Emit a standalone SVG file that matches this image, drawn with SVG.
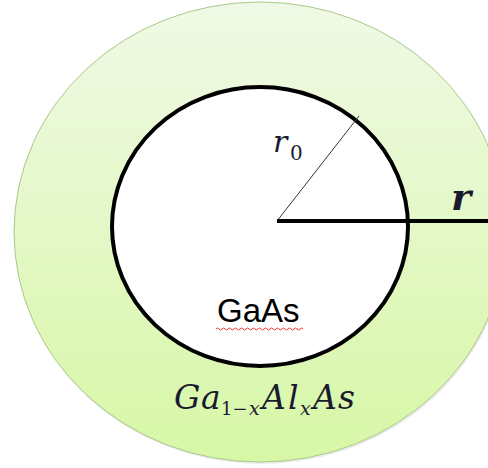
<svg xmlns="http://www.w3.org/2000/svg" width="488" height="468" viewBox="0 0 488 468">
<defs>
<linearGradient id="g" x1="0" y1="0" x2="0" y2="1">
<stop offset="0" stop-color="#f0f9e6"/>
<stop offset="1" stop-color="#d7f7a6"/>
</linearGradient>
<style>
.m{font-family:"DejaVu Serif","Liberation Serif",serif;font-style:italic;fill:#1a1a2e}
.n{font-style:normal}
.s{font-family:"Liberation Sans",Arial,sans-serif;fill:#000}
</style>
</defs>
<rect width="488" height="468" fill="#fff"/>
<g id="shell">
<ellipse cx="261" cy="234" rx="246" ry="230" fill="#000" opacity="0.08"/>
<ellipse cx="260" cy="232" rx="246" ry="230" fill="url(#g)" stroke="#a9c98a" stroke-width="1"/>
</g>
<g id="core">
<ellipse cx="260" cy="226.5" rx="148" ry="139.5" fill="#fff" stroke="#000" stroke-width="4"/>
</g>
<g id="connectors">
<line x1="277" y1="221" x2="359" y2="116" stroke="#333" stroke-width="1"/>
<line x1="277" y1="221" x2="488" y2="221" stroke="#000" stroke-width="4"/>
</g>
<g id="labels">
<text class="m" font-size="30"><tspan x="273" y="152">r</tspan><tspan class="n" font-size="20" x="290" y="160">0</tspan></text>
<text class="m" x="451" y="210" font-size="38" font-weight="bold">r</text>
<text class="s" x="217" y="322" font-size="33">GaAs</text>
<path d="M216 329 q1.5 -2 3 0 t3 0 t3 0 t3 0 t3 0 t3 0 t3 0 t3 0 t3 0 t3 0 t3 0 t3 0 t3 0 t3 0 t3 0 t3 0 t3 0 t3 0 t3 0 t3 0 t3 0 t3 0 t3 0 t3 0 t3 0 t3 0 t3 0 t3 0 t3 0" fill="none" stroke="#e33" stroke-width="1"/>
<text class="m" font-size="33"><tspan x="174" y="409">G</tspan><tspan x="201" y="409">a</tspan><tspan class="n" font-size="18" x="221" y="415">1−</tspan><tspan font-size="19" x="249" y="415">x</tspan><tspan x="262" y="409">A</tspan><tspan x="288" y="409">l</tspan><tspan font-size="19" x="300" y="415">x</tspan><tspan x="313" y="409">A</tspan><tspan x="338" y="409">s</tspan></text>
</g>
</svg>
